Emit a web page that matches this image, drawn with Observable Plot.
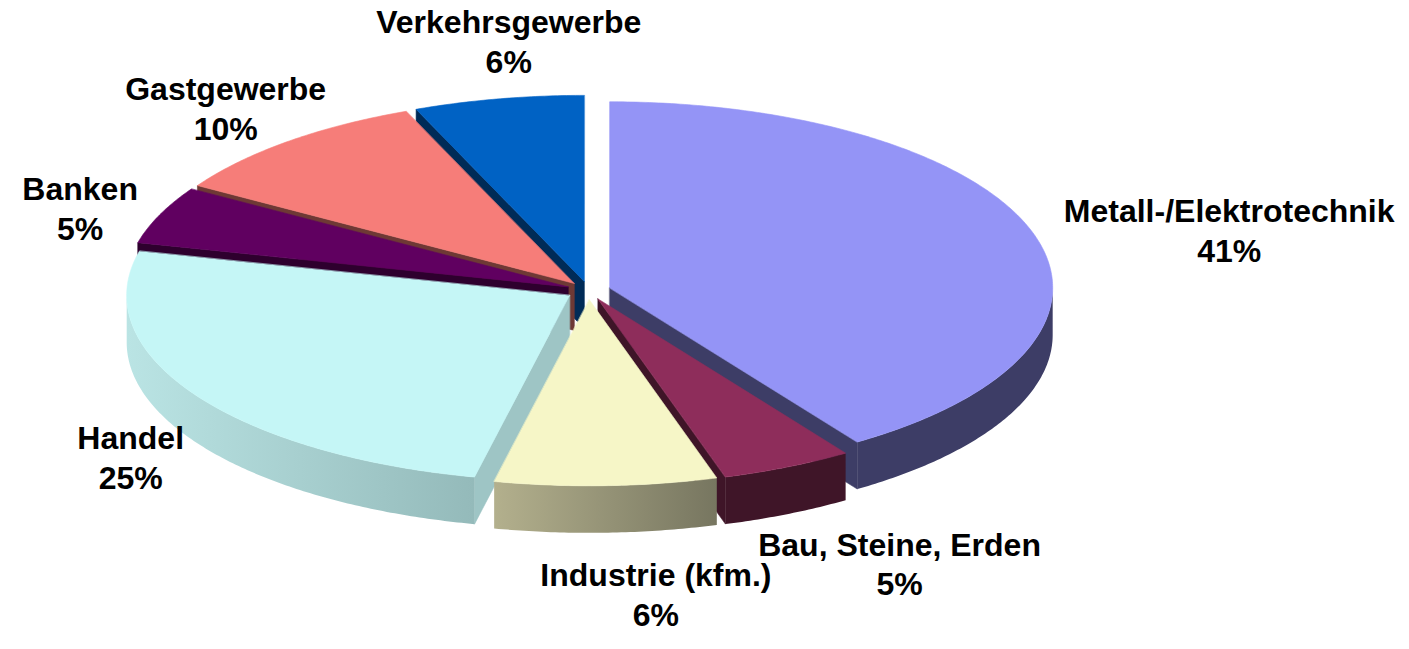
<!DOCTYPE html>
<html>
<head>
<meta charset="utf-8">
<script src="https://cdn.jsdelivr.net/npm/d3@7"></script>
<script src="https://cdn.jsdelivr.net/npm/@observablehq/plot@0.6"></script>
<style>
  html, body { margin: 0; padding: 0; background: #ffffff; }
  #chart svg { display: block; }
</style>
</head>
<body>
<div id="chart"></div>
<script>
// ---- data (clockwise from 12 o'clock) ----
const categories = ["Metall-/Elektrotechnik", "Bau, Steine, Erden", "Industrie (kfm.)", "Handel", "Banken", "Gastgewerbe", "Verkehrsgewerbe"];
const shares = [40.6, 4.8, 8.1, 25.4, 5.0, 10.0, 6.2];          // slice sizes as drawn
const percentLabels = ["41%", "5%", "6%", "25%", "5%", "10%", "6%"]; // printed labels
const topColors = ["#9494F6", "#8E2D5B", "#F6F6C7", "#C5F6F6", "#600060", "#F67D79", "#0062C4"];
const wallColors = ["#3D3D66", "#3F1528", "url(#gInd)", "url(#gHan)", "#2E002E", "#6E3935", "#002B57"];
const radialColors = ["#3D3D66", "#3F1528", "#8F8E72", "#9EC5C5", "#2E002E", "#6E3935", "#002B57"];

// ---- layout ----
const W = 1409, H = 649;
const cx = 588, cy = 290, rx = 443, ry = 186;
const explode = 0.05;   // in radius units
const depth = 0.253;    // in y radius units
const fontSize = 32;
const fontFamily = "'Liberation Sans', Arial, sans-serif";

const arcs = d3.pie().sort(null).startAngle(0).endAngle(2 * Math.PI)(shares);

function arcPts(a0, a1, o, dy = 0) {
  const n = Math.max(2, Math.ceil((a1 - a0) / 0.01));
  return d3.range(n + 1).map(i => {
    const t = a0 + (a1 - a0) * i / n;
    return [o[0] + Math.sin(t), o[1] - Math.cos(t) + dy];
  });
}
function radialQuad(a, o) {
  return [[o[0], o[1]], [o[0] + Math.sin(a), o[1] - Math.cos(a)], [o[0] + Math.sin(a), o[1] - Math.cos(a) + depth], [o[0], o[1] + depth]];
}

const slices = arcs.map((a, i) => {
  const b = (a.startAngle + a.endAngle) / 2;
  const o = [explode * Math.sin(b), -explode * Math.cos(b)];
  return {i, a0: a.startAngle, a1: a.endAngle, b, o};
});

const polyMark = (pts, color) => Plot.line(pts, {
  x: d => d[0], y: d => d[1], fill: color, stroke: color, strokeWidth: 0.6, curve: "linear-closed"
});

// walls, painted back to front
const wallMarks = [];
slices.slice().sort((p, q) => (-Math.cos(p.b)) - (-Math.cos(q.b))).forEach(s => {
  if (Math.sin(s.a0) < -1e-6) wallMarks.push(polyMark(radialQuad(s.a0, s.o), radialColors[s.i]));
  if (Math.sin(s.a1) > 1e-6) wallMarks.push(polyMark(radialQuad(s.a1, s.o), radialColors[s.i]));
  const w0 = Math.max(s.a0, Math.PI / 2), w1 = Math.min(s.a1, 3 * Math.PI / 2);
  if (w1 > w0) {
    const pts = arcPts(w0, w1, s.o).concat(arcPts(w0, w1, s.o, depth).reverse());
    wallMarks.push(Plot.line(pts, {x: d => d[0], y: d => d[1], fill: wallColors[s.i], stroke: "none", curve: "linear-closed"}));
  }
});
const topMarks = slices.map(s => polyMark([s.o].concat(arcPts(s.a0, s.a1, s.o)), topColors[s.i]));

// ---- labels (outside the slice, along its bisector) ----
const ctx = document.createElement("canvas").getContext("2d");
ctx.font = `bold ${fontSize}px ${fontFamily}`;
const boxH = 62;
const labelRows = slices.map(s => {
  const text = categories[s.i] + "\n" + percentLabels[s.i];
  const w = Math.max(ctx.measureText(categories[s.i]).width, ctx.measureText(percentLabels[s.i]).width);
  const sn = Math.sin(s.b), cs = Math.cos(s.b);
  const kx = 1.08, ky = 0.8 + 0.36 * Math.abs(cs);
  return {
    text,
    x: s.o[0] + sn * kx + sn * (w / 2) / rx + 0.1 * cs * cs,
    y: s.o[1] - cs * ky - cs * (boxH / 2) / ry + (cs < 0 ? depth : 0)
  };
});

const svg = Plot.plot({
  width: W, height: H,
  marginTop: 0, marginRight: 0, marginBottom: 0, marginLeft: 0,
  style: {background: "#ffffff"},
  x: {domain: [-1, 1], range: [cx - rx, cx + rx], axis: null},
  y: {domain: [-1, 1], range: [cy - ry, cy + ry], axis: null},
  marks: [
    ...wallMarks,
    ...topMarks,
    Plot.text(labelRows, {
      x: "x", y: "y", text: "text",
      fontSize, fontWeight: "bold", fontFamily,
      lineHeight: 1.23, textAnchor: "middle", fill: "#000000"
    })
  ]
});

d3.select(svg).insert("defs", ":first-child").html(`
  <linearGradient id="gInd" x1="0" y1="0" x2="1" y2="0">
    <stop offset="0" stop-color="#B3B08D"/><stop offset="1" stop-color="#777660"/>
  </linearGradient>
  <linearGradient id="gHan" x1="0" y1="0" x2="1" y2="0">
    <stop offset="0" stop-color="#BAE4E4"/><stop offset="1" stop-color="#94BABA"/>
  </linearGradient>`);

document.getElementById("chart").appendChild(svg);
</script>
</body>
</html>
